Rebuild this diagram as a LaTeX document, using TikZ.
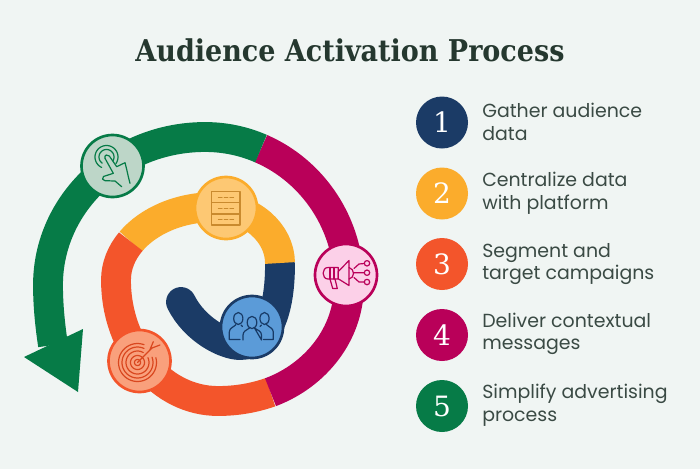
\documentclass[tikz,border=0pt]{standalone}
\usepackage{fontspec}
\setmainfont{Poppins}
\newfontfamily\slabfont{DejaVu Serif}
\newfontfamily\titlefont{DejaVu Serif Condensed}
\definecolor{bgc}{HTML}{F0F5F3}
\definecolor{navy}{HTML}{1B3B66}
\definecolor{navyl}{HTML}{5B9BD8}
\definecolor{navyd}{HTML}{173A66}
\definecolor{amber}{HTML}{FBAC2C}
\definecolor{amberl}{HTML}{FDC873}
\definecolor{amberd}{HTML}{C98A2E}
\definecolor{flame}{HTML}{F3552B}
\definecolor{flamel}{HTML}{F9A07C}
\definecolor{flamed}{HTML}{D9471F}
\definecolor{berry}{HTML}{B90059}
\definecolor{berryl}{HTML}{FCD0E8}
\definecolor{forest}{HTML}{067B47}
\definecolor{forestl}{HTML}{BDD6C8}
\definecolor{txt}{HTML}{3A4A44}
\definecolor{ttl}{HTML}{25382F}
\tikzset{
 band/.style={line width=22.4pt,line cap=butt,line join=round},
 disc/.style={circle,draw,line width=2pt,minimum size=46.5pt,inner sep=0pt},
 badge/.style={circle,fill=#1,minimum size=39pt,inner sep=0pt,text=white,font=\slabfont\fontsize{21}{21}\selectfont},
 item/.style={anchor=west,align=left,text=txt,font=\fontsize{14.2}{17}\selectfont,inner sep=0pt},
 icon/.style={line width=0.9pt,line cap=round,line join=round}
}
\newcommand{\openarc}[6]{\draw[icon,#1] plot[domain=#5:#6,samples=40] ({#2+#4*cos(\x)},{#3-#4*sin(\x)});}
\begin{document}
\begin{tikzpicture}[x=0.75pt,y=-0.75pt]
\fill[bgc] (0,0) rectangle (700,469);
\useasboundingbox (0,0) rectangle (700,469);
\node[text=ttl,font=\titlefont\bfseries\fontsize{22.5}{26}\selectfont,inner sep=0pt] (title) at (350,50) {Audience Activation Process};
% spiral
\draw[band,navy,line cap=round] (181,302) .. controls (195,330) and (225,345) .. (240,345) .. controls (268,345) and (280,310) .. (280,265);
\draw[band,amber] (280,263) .. controls (280,233) and (251,207) .. (215,207) .. controls (179.5,207) and (148.3,220.8) .. (130.8,241.6);
\draw[band,flame] (130.8,241.6) .. controls (121.4,252.8) and (116,265.9) .. (116,280) .. controls (116,347.3) and (161.7,401) .. (218,401) .. controls (236,401) and (253.2,398.2) .. (270.5,392.2);
\draw[band,berry] (270.5,392.2) .. controls (315.8,375.2) and (349,333.75) .. (349,285) .. controls (349,223.5) and (312.7,171) .. (261,148.6);
\draw[band,forest] (261,148.6) .. controls (243.8,141.1) and (224.9,137) .. (205,137) .. controls (118.3,137) and (48,203.3) .. (48,285) .. controls (48,305) and (50,325) .. (53,345);
\fill[forest] (24,357) -- (83,329) -- (78,392) -- cycle;
% discs
\node[disc,draw=forest,fill=forestl] (d5) at (112.5,166) {};
\node[disc,draw=amber,fill=amberl] (d2) at (226,208) {};
\node[disc,draw=berry,fill=berryl] (d4) at (346,275) {};
\node[disc,draw=flame,fill=flamel] (d3) at (139.5,361) {};
\node[disc,draw=navy,fill=navyl] (d1) at (252,327) {};
% hand icon
\openarc{forest}{106.5}{157}{11.5}{-35}{245}
\openarc{forest}{106.5}{157}{7.5}{-30}{235}
\draw[icon,forest] (105,158.3) -- (113.3,173.3) -- (103.5,176.5) .. controls (101.5,178) and (102.5,180.5) .. (105,180.7) -- (115,181) -- (121.7,186.7);
\draw[icon,forest] (105,158.3) .. controls (104,154.5) and (108,154) .. (109.3,156) -- (116.7,166.7) -- (125,162.7) .. controls (127,170) and (128,176) .. (130,183.3);
% database icon
\draw[icon,amberd] (211.7,191.7) rectangle (240,225);
\draw[icon,amberd] (211.7,202.7) -- (240,202.7) (211.7,214) -- (240,214);
\foreach \yy in {197.5,208.3,219.5}{
 \draw[icon,amberd] (218.5,\yy) -- (222,\yy) (224.3,\yy) -- (227.8,\yy) (230,\yy) -- (233.5,\yy);}
% megaphone icon
\draw[icon,berry] (338.3,271.5) -- (349,260.5) -- (349,285.5) -- (338.3,278.8) -- cycle;
\draw[icon,berry] (338.3,267.5) -- (328,267.5) .. controls (321.5,267.5) and (321.5,279) .. (328,279) -- (338.3,279) -- cycle;
\draw[icon,berry] (330,267.5) -- (330,279) (334,267.5) -- (334,279);
\draw[icon,berry] (330,279) -- (332.7,288.5) -- (337.3,288.5) -- (335,279);
\draw[icon,berry] (349,267.5) .. controls (355,269) and (355,278) .. (349,279);
\draw[icon,berry] (354,272.7) -- (364,272.7) (354,268.5) -- (359,264) -- (364.3,263.5) (354,277.5) -- (359,282) -- (364.3,282);
\foreach \yy in {263.3,272.7,282}{\draw[icon,berry] (367,\yy) circle[radius=2.7];}
% target icon
\openarc{flamed}{137.5}{362.5}{19}{70}{375}
\openarc{flamed}{137.5}{362.5}{15.5}{65}{380}
\openarc{flamed}{137.5}{362.5}{11.5}{60}{385}
\openarc{flamed}{137.5}{362.5}{7}{0}{360}
\openarc{flamed}{137.5}{362.5}{3}{0}{360}
\draw[icon,flamed] (137.5,362.5) -- (152,348);
\draw[icon,flamed] (150,349.5) -- (153.3,341.7) (152,348) -- (160,345);
% people icon
\draw[icon,navyd] (252,322.5) ellipse[x radius=4.8,y radius=6.2];
\draw[icon,navyd] (238.3,318.5) ellipse[x radius=4.6,y radius=6];
\draw[icon,navyd] (264.5,318.5) ellipse[x radius=4.6,y radius=6];
\draw[icon,navyd] (243,340) -- (243,335) .. controls (243,331) and (247,330) .. (249.5,328) (254.5,328) .. controls (257,330) and (261.5,331) .. (261.5,335) -- (261.5,340) -- cycle;
\draw[icon,navyd] (240,339.5) -- (229.3,339.5) -- (229.3,332) .. controls (229.3,328) and (234,327) .. (236,324.5) (241,325) -- (242.5,326.5);
\draw[icon,navyd] (263.5,339.5) -- (273.3,339.5) -- (273.3,332) .. controls (273.3,328) and (268.5,327) .. (266.5,324.5) (261.5,325) -- (260,326.5);
% legend
\node[badge=navy] (b1) at (442,122.5) {1};
\node[badge=amber] (b2) at (442,193.5) {2};
\node[badge=flame] (b3) at (442,264) {3};
\node[badge=berry] (b4) at (442,335) {4};
\node[badge=forest] (b5) at (442,406) {5};
\node[item] (t1) at (482,122) {Gather audience\\data};
\node[item] (t2) at (482,193) {Centralize data\\with platform};
\node[item] (t3) at (482,264) {Segment and\\target campaigns};
\node[item] (t4) at (482,334) {Deliver contextual\\messages};
\node[item] (t5) at (482,405) {Simplify advertising\\process};
\end{tikzpicture}
\end{document}
